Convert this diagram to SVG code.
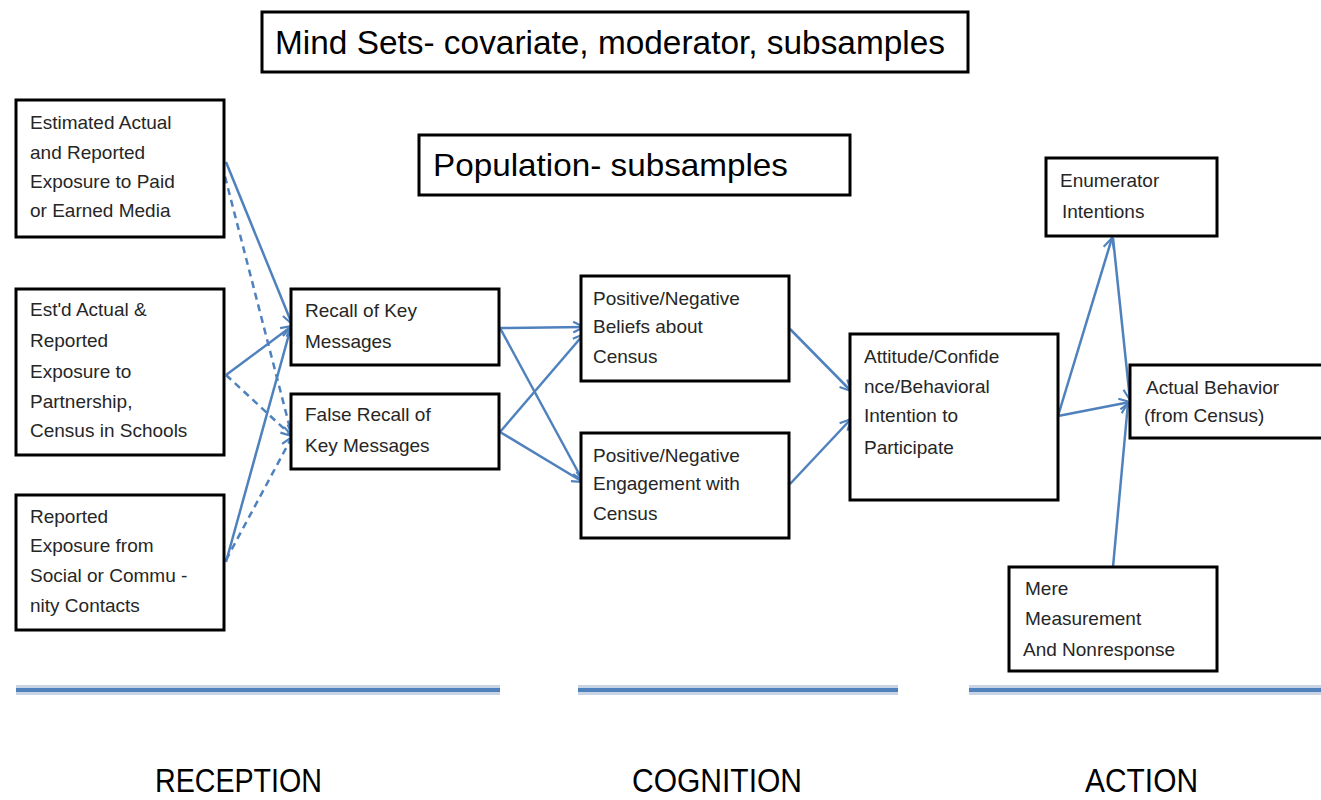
<svg xmlns="http://www.w3.org/2000/svg" width="1321" height="800" viewBox="0 0 1321 800">
<style>
.box{fill:#fff;stroke:#000;stroke-width:3}
.t{font-family:"Liberation Sans",Arial,sans-serif;font-size:19px;fill:#262626}
.big{font-family:"Liberation Sans",Arial,sans-serif;fill:#000}
.c{fill:none;stroke:#4f81bd;stroke-width:2.5}
.d{stroke-dasharray:7,5}
.halo{stroke:#c8d3e4;stroke-width:10;fill:none}
.rule{stroke:#4f81bd;stroke-width:4;fill:none}
</style>
<defs>
<marker id="ah" viewBox="0 0 12 12" refX="11" refY="6" markerWidth="13" markerHeight="13" markerUnits="userSpaceOnUse" orient="auto">
<path d="M1,1 L11,6 L1,11" fill="none" stroke="#4f81bd" stroke-width="2"/>
</marker>
</defs>
<rect width="1321" height="800" fill="#fff"/>

<g id="connectors">
<line class="c" x1="226" y1="162" x2="292" y2="324" marker-end="url(#ah)"/>
<line class="c d" x1="222" y1="165" x2="292" y2="436" marker-end="url(#ah)"/>
<line class="c" x1="226" y1="375" x2="292" y2="326" marker-end="url(#ah)"/>
<line class="c d" x1="226" y1="375" x2="292" y2="436" marker-end="url(#ah)"/>
<line class="c" x1="226" y1="562" x2="291" y2="327" marker-end="url(#ah)"/>
<line class="c d" x1="226" y1="560" x2="292" y2="437" marker-end="url(#ah)"/>
<line class="c" x1="500" y1="328" x2="584" y2="327" marker-end="url(#ah)"/>
<line class="c" x1="500" y1="328" x2="583" y2="481" marker-end="url(#ah)"/>
<line class="c" x1="500" y1="432" x2="584" y2="334" marker-end="url(#ah)"/>
<line class="c" x1="500" y1="432" x2="583" y2="482" marker-end="url(#ah)"/>
<line class="c" x1="790" y1="329" x2="851" y2="391" marker-end="url(#ah)"/>
<line class="c" x1="790" y1="484" x2="851" y2="419" marker-end="url(#ah)"/>
<line class="c" x1="1058" y1="416" x2="1112" y2="238" marker-end="url(#ah)"/>
<line class="c" x1="1058" y1="416" x2="1130" y2="402" marker-end="url(#ah)"/>
<line class="c" x1="1113" y1="238" x2="1130" y2="400" marker-end="url(#ah)"/>
<line class="c" x1="1113" y1="567" x2="1128" y2="403" marker-end="url(#ah)"/>
</g>

<g id="mindsets">
<rect class="box" x="262" y="12" width="706" height="60"/>
<text class="big" x="275" y="54" font-size="33" textLength="670" lengthAdjust="spacingAndGlyphs">Mind Sets- covariate, moderator, subsamples</text>
</g>
<g id="population">
<rect class="box" x="419" y="135" width="431" height="60"/>
<text class="big" x="433" y="176" font-size="32" textLength="355" lengthAdjust="spacingAndGlyphs">Population- subsamples</text>
</g>

<g id="paid-media">
<rect class="box" x="16" y="100" width="208" height="137"/>
<text class="t" x="30" y="129">Estimated Actual</text>
<text class="t" x="30" y="159">and Reported</text>
<text class="t" x="30" y="188">Exposure to Paid</text>
<text class="t" x="30" y="217">or Earned Media</text>
</g>
<g id="partnership">
<rect class="box" x="16" y="289" width="208" height="166"/>
<text class="t" x="30" y="316">Est'd Actual &amp;</text>
<text class="t" x="30" y="347">Reported</text>
<text class="t" x="30" y="378">Exposure to</text>
<text class="t" x="30" y="408">Partnership,</text>
<text class="t" x="30" y="437">Census in Schools</text>
</g>
<g id="social">
<rect class="box" x="16" y="495" width="208" height="135"/>
<text class="t" x="30" y="523">Reported</text>
<text class="t" x="30" y="552">Exposure from</text>
<text class="t" x="30" y="582">Social or Commu -</text>
<text class="t" x="30" y="612">nity Contacts</text>
</g>
<g id="recall">
<rect class="box" x="291" y="289" width="208" height="76"/>
<text class="t" x="305" y="317">Recall of Key</text>
<text class="t" x="305" y="348">Messages</text>
</g>
<g id="false-recall">
<rect class="box" x="291" y="394" width="208" height="75"/>
<text class="t" x="305" y="421">False Recall of</text>
<text class="t" x="305" y="452">Key Messages</text>
</g>
<g id="beliefs">
<rect class="box" x="581" y="276" width="208" height="105"/>
<text class="t" x="593" y="305">Positive/Negative</text>
<text class="t" x="593" y="333">Beliefs about</text>
<text class="t" x="593" y="363">Census</text>
</g>
<g id="engagement">
<rect class="box" x="581" y="433" width="208" height="105"/>
<text class="t" x="593" y="462">Positive/Negative</text>
<text class="t" x="593" y="490">Engagement with</text>
<text class="t" x="593" y="520">Census</text>
</g>
<g id="attitude">
<rect class="box" x="850" y="334" width="208" height="166"/>
<text class="t" x="864" y="363">Attitude/Confide</text>
<text class="t" x="864" y="393">nce/Behavioral</text>
<text class="t" x="864" y="422">Intention  to</text>
<text class="t" x="864" y="454">Participate</text>
</g>
<g id="enumerator">
<rect class="box" x="1046" y="158" width="171" height="78"/>
<text class="t" x="1060" y="187">Enumerator</text>
<text class="t" x="1062" y="218">Intentions</text>
</g>
<g id="actual-behavior">
<rect class="box" x="1130" y="365" width="195" height="73"/>
<text class="t" x="1146" y="394">Actual Behavior</text>
<text class="t" x="1144" y="422">(from Census)</text>
</g>
<g id="mere-measurement">
<rect class="box" x="1009" y="567" width="208" height="104"/>
<text class="t" x="1025" y="595">Mere</text>
<text class="t" x="1025" y="625">Measurement</text>
<text class="t" x="1023" y="656">And Nonresponse</text>
</g>

<g id="phases">
<line class="halo" x1="16" y1="690" x2="500" y2="690"/>
<line class="rule" x1="16" y1="690" x2="500" y2="690"/>
<line class="halo" x1="578" y1="690" x2="898" y2="690"/>
<line class="rule" x1="578" y1="690" x2="898" y2="690"/>
<line class="halo" x1="969" y1="690" x2="1321" y2="690"/>
<line class="rule" x1="969" y1="690" x2="1321" y2="690"/>
<text class="big" x="155" y="792" font-size="34" textLength="167" lengthAdjust="spacingAndGlyphs">RECEPTION</text>
<text class="big" x="632" y="792" font-size="34" textLength="170" lengthAdjust="spacingAndGlyphs">COGNITION</text>
<text class="big" x="1085" y="792" font-size="34" textLength="113" lengthAdjust="spacingAndGlyphs">ACTION</text>
</g>
</svg>
